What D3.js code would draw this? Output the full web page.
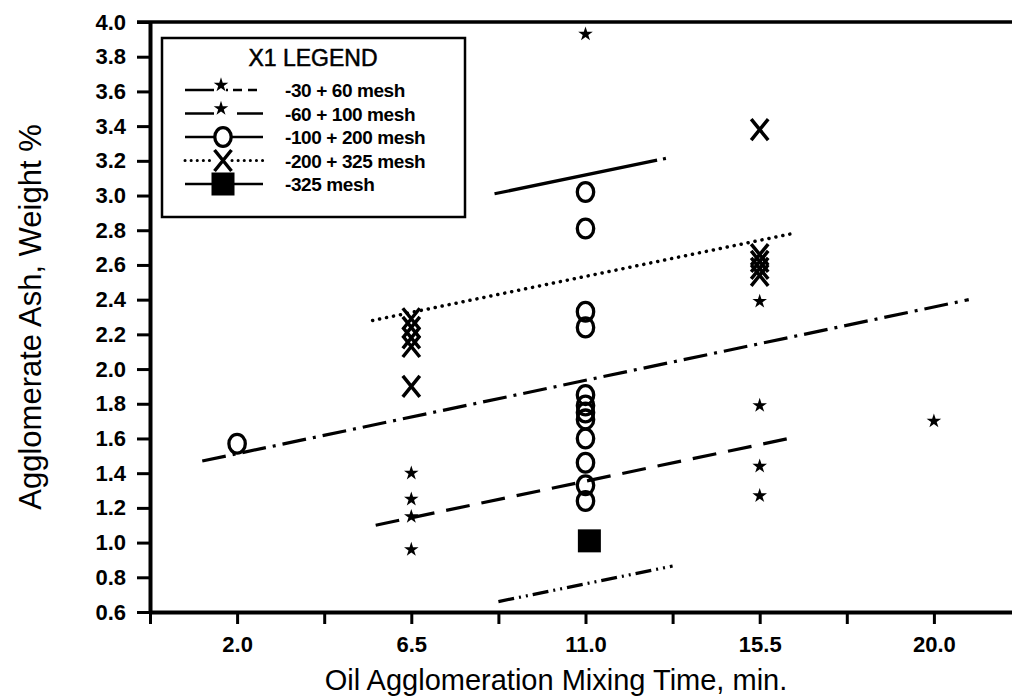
<!DOCTYPE html>
<html>
<head>
<meta charset="utf-8">
<script src="https://cdn.jsdelivr.net/npm/d3@7"></script>
<style>
	body { margin: 0; background: #fff; }
	svg { display: block; }
	text { font-family: "Liberation Sans", Arial, sans-serif; fill: #000; }
</style>
</head>
<body>
<div id="dataviz"></div>
<script>
	// series names, in legend order
	const seriesNames = ['-30 + 60 mesh', '-60 + 100 mesh', '-100 + 200 mesh', '-200 + 325 mesh', '-325 mesh'];

	// mixing time (min) and agglomerate ash (wt %) per series
	const mesh30Time = [11.0, 15.5, 20.0];
	const mesh30Ash = [3.93, 2.39, 1.70];
	const mesh60Time = [6.5, 6.5, 6.5, 6.5, 15.5, 15.5, 15.5];
	const mesh60Ash = [1.40, 1.25, 1.15, 0.96, 1.79, 1.44, 1.27];
	const mesh100Time = [2.0, 11.0, 11.0, 11.0, 11.0, 11.0, 11.0, 11.0, 11.0, 11.0, 11.0, 11.0, 11.0];
	const mesh100Ash = [1.57, 3.02, 2.81, 2.33, 2.24, 1.85, 1.79, 1.75, 1.71, 1.60, 1.46, 1.33, 1.24];
	const mesh200Time = [6.5, 6.5, 6.5, 6.5, 6.5, 15.5, 15.5, 15.5, 15.5, 15.5];
	const mesh200Ash = [2.29, 2.24, 2.18, 2.13, 1.90, 3.38, 2.66, 2.62, 2.58, 2.54];
	const mesh325Time = [11.1];
	const mesh325Ash = [1.01];

	// fitted lines, end points per series
	const fitTime = [[1.1, 20.9], [5.58, 16.36], [8.65, 13.2], [5.5, 16.33], [8.75, 13.25]];
	const fitAsh = [[1.47, 2.40], [1.10, 1.605], [3.01, 3.22], [2.28, 2.78], [0.66, 0.865]];

	// axis ticks
	const xTicks = [-0.25, 2.0, 4.25, 6.5, 8.75, 11.0, 13.25, 15.5, 17.75, 20.0, 22.25];
	const xTickLabels = ['2.0', '6.5', '11.0', '15.5', '20.0'];
	const yTicks = [0.6, 0.8, 1.0, 1.2, 1.4, 1.6, 1.8, 2.0, 2.2, 2.4, 2.6, 2.8, 3.0, 3.2, 3.4, 3.6, 3.8, 4.0];

	const seriesTime = [mesh30Time, mesh60Time, mesh100Time, mesh200Time, mesh325Time];
	const seriesAsh = [mesh30Ash, mesh60Ash, mesh100Ash, mesh200Ash, mesh325Ash];
	const markers = ['star', 'star', 'circle', 'cross', 'square'];
	const fitDash = ['24,7,3,7', '24,12', '166,6,3,40', '0.1,7', '16,5,2,5,2,5'];
	const legendLeftDash = [null, null, null, '0.1,6', null];
	const legendRightDash = ['2,5,9,6,9,6', '0,11,30', null, '0.1,6', null];

	const width = 1012;
	const height = 697;

	const svg = d3.select('#dataviz')
		.append('svg')
		.attr('width', width)
		.attr('height', height);

	const xScale = d3.scaleLinear()
		.domain([-0.25, 22.25])
		.range([150, 1021]);

	const yScale = d3.scaleLinear()
		.domain([0.6, 4.0])
		.range([612, 22]);

	const xAxis = d3.axisBottom(xScale)
		.tickValues(xTicks)
		.tickSize(12)
		.tickSizeOuter(0)
		.tickPadding(12)
		.tickFormat(d => {
			const s = d.toFixed(1);
			return xTickLabels.includes(s) ? s : '';
		});

	const yAxis = d3.axisLeft(yScale)
		.tickValues(yTicks)
		.tickSize(13)
		.tickSizeOuter(0)
		.tickPadding(11)
		.tickFormat(d3.format('.1f'));

	const xAxisG = svg.append('g')
		.attr('id', 'xAxisG')
		.attr('transform', `translate(0, ${yScale(0.6)})`)
		.call(xAxis);

	const yAxisG = svg.append('g')
		.attr('id', 'yAxisG')
		.attr('transform', `translate(${xScale(-0.25)}, 0)`)
		.call(yAxis);

	[xAxisG, yAxisG].forEach(g => {
		g.select('.domain').attr('stroke-width', 4);
		g.selectAll('.tick line').attr('stroke-width', 3);
		g.selectAll('.tick text')
			.attr('fill', '#000')
			.style('font-size', '22px')
			.style('font-weight', 'bold');
	});

	// frame top edge
	svg.append('line')
		.attr('x1', xScale(-0.25) - 13)
		.attr('x2', xScale(22.25))
		.attr('y1', yScale(4.0))
		.attr('y2', yScale(4.0))
		.attr('stroke', '#000')
		.attr('stroke-width', 3.5);

	// axis titles
	svg.append('text')
		.attr('transform', `translate(41, ${(yScale(0.6) + yScale(4.0)) / 2}) rotate(-90)`)
		.attr('text-anchor', 'middle')
		.style('font-size', '31px')
		.text('Agglomerate Ash, Weight %');

	svg.append('text')
		.attr('x', 556)
		.attr('y', 690)
		.attr('text-anchor', 'middle')
		.style('font-size', '29px')
		.text('Oil Agglomeration Mixing Time, min.');

	// fitted lines
	svg.selectAll('line.fit')
		.data(fitTime)
		.enter()
		.append('line')
		.attr('class', 'fit')
		.attr('x1', d => xScale(d[0]))
		.attr('x2', d => xScale(d[1]))
		.attr('y1', (d, i) => yScale(fitAsh[i][0]))
		.attr('y2', (d, i) => yScale(fitAsh[i][1]))
		.attr('stroke', '#000')
		.attr('stroke-width', (d, i) => i === 3 ? 3.5 : 3.2)
		.attr('stroke-linecap', (d, i) => i === 3 ? 'round' : 'butt')
		.attr('stroke-dasharray', (d, i) => fitDash[i]);

	function drawMarker(g, kind) {
		if (kind === 'star') {
			g.append('path')
				.attr('d', d3.symbol().type(d3.symbolStar).size(66))
				.attr('fill', '#000');
		} else if (kind === 'circle') {
			g.append('ellipse')
				.attr('rx', 8.2)
				.attr('ry', 9.4)
				.attr('fill', 'none')
				.attr('stroke', '#000')
				.attr('stroke-width', 3.3);
		} else if (kind === 'cross') {
			g.append('path')
				.attr('d', 'M-8.5,-10.5L8.5,10.5M8.5,-10.5L-8.5,10.5')
				.attr('fill', 'none')
				.attr('stroke', '#000')
				.attr('stroke-width', 3.5);
		} else {
			g.append('rect')
				.attr('x', -11.5)
				.attr('y', -11.5)
				.attr('width', 23)
				.attr('height', 23)
				.attr('fill', '#000');
		}
	}

	// data points
	seriesTime.forEach((times, s) => {
		const points = times.map((t, i) => ({ t: t, a: seriesAsh[s][i] }));
		svg.selectAll(`g.pt${s}`)
			.data(points)
			.enter()
			.append('g')
			.attr('class', `pt${s}`)
			.attr('transform', d => `translate(${xScale(d.t)}, ${yScale(d.a)})`)
			.each(function() { drawMarker(d3.select(this), markers[s]); });
	});

	// legend
	const legend = svg.append('g').attr('transform', 'translate(162, 38)');

	legend.append('rect')
		.attr('width', 303)
		.attr('height', 179)
		.attr('fill', '#fff')
		.attr('stroke', '#000')
		.attr('stroke-width', 2.5);

	legend.append('text')
		.attr('x', 151)
		.attr('y', 28)
		.attr('text-anchor', 'middle')
		.attr('stroke', '#000')
		.attr('stroke-width', 0.5)
		.style('font-size', '23px')
		.text('X1 LEGEND');

	const rows = legend.selectAll('g.row')
		.data(seriesNames)
		.enter()
		.append('g')
		.attr('class', 'row')
		.attr('transform', (d, i) => `translate(0, ${52 + i * 23.5})`);

	rows.append('line')
		.attr('x1', 23).attr('x2', 52)
		.attr('stroke', '#000')
		.attr('stroke-width', (d, i) => i === 3 ? 3 : 2.5)
		.attr('stroke-linecap', (d, i) => i === 3 ? 'round' : 'butt')
		.attr('stroke-dasharray', (d, i) => legendLeftDash[i]);

	rows.append('line')
		.attr('x1', (d, i) => i < 2 ? 64 : 70).attr('x2', 101)
		.attr('stroke', '#000')
		.attr('stroke-width', (d, i) => i === 3 ? 3 : 2.5)
		.attr('stroke-linecap', (d, i) => i === 3 ? 'round' : 'butt')
		.attr('stroke-dasharray', (d, i) => legendRightDash[i]);

	rows.append('g')
		.attr('transform', (d, i) => `translate(${i < 2 ? 59 : 61}, ${i < 2 ? -5 : 0})`)
		.each(function(d, i) { drawMarker(d3.select(this), markers[i]); });

	rows.append('text')
		.attr('x', 123)
		.attr('y', 7)
		.style('font-size', '19px')
		.style('font-weight', 'bold')
		.style('letter-spacing', '-0.4px')
		.text(d => d);
</script>
</body>
</html>
